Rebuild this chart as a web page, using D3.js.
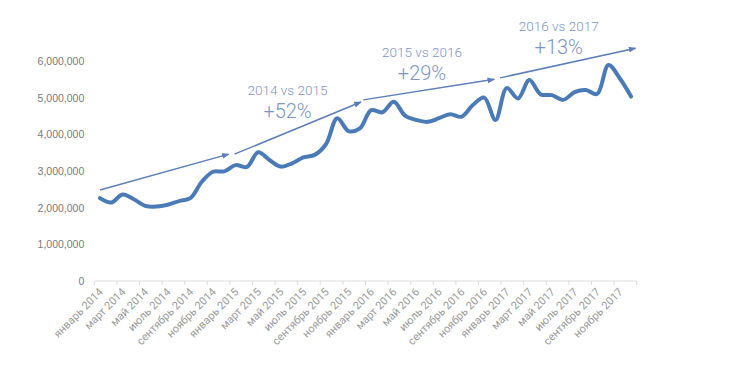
<!DOCTYPE html>
<html lang="ru">
<head>
<meta charset="UTF-8" />
<title>Продажи 2014–2017</title>
<script src="https://cdn.jsdelivr.net/npm/d3@7"></script>
<style>
  html, body { margin: 0; padding: 0; background: #fff; }
  svg { display: block; font-family: Roboto, "Noto Sans", sans-serif; }
</style>
</head>
<body>
<div id="chart"></div>
<script>
// months, Jan 2014 .. Dec 2017
const monthNames = ['январь','февраль','март','апрель','май','июнь','июль','август','сентябрь','октябрь','ноябрь','декабрь'];
const years = [2014, 2015, 2016, 2017];
const months = years.flatMap(y => monthNames.map(m => `${m} ${y}`));

// monthly values
const values = [
  2260000, 2140000, 2360000, 2230000, 2050000, 2030000, 2080000, 2180000, 2260000, 2700000, 2980000, 2990000,
  3160000, 3110000, 3510000, 3300000, 3120000, 3210000, 3370000, 3440000, 3730000, 4440000, 4090000, 4160000,
  4660000, 4600000, 4890000, 4510000, 4390000, 4340000, 4440000, 4550000, 4480000, 4800000, 5000000, 4390000,
  5260000, 4980000, 5480000, 5090000, 5070000, 4940000, 5150000, 5210000, 5100000, 5890000, 5530000, 5030000
];

const yTicks = [0, 1000000, 2000000, 3000000, 4000000, 5000000, 6000000];

// year-over-year trend arrows: [start month index, start value, end month index, end value]
const arrows = [
  [0.0, 2480000, 11.4, 3460000],
  [11.9, 3460000, 23.1, 4880000],
  [23.3, 4940000, 34.9, 5500000],
  [35.4, 5540000, 47.4, 6350000]
];
const arrowLabels = ['2014 vs 2015', '2015 vs 2016', '2016 vs 2017'];
const arrowPcts = ['+52%', '+29%', '+13%'];
// label anchor in data terms: [month index, value of first line baseline]
const labelPos = [[16.6, 5070000], [28.5, 6110000], [40.6, 6830000]];

const W = 752, H = 376;
const margin = { top: 61, right: 115.3, bottom: 95, left: 94.3 };
const iw = W - margin.left - margin.right;
const ih = H - margin.top - margin.bottom;

const svg = d3.select('#chart').append('svg')
  .attr('width', W).attr('height', H);
const g = svg.append('g').attr('transform', `translate(${margin.left},${margin.top})`);

const x = d3.scaleBand().domain(d3.range(months.length)).range([0, iw]).padding(0);
const xc = i => x(0) + (i + 0.5) * x.step();
const y = d3.scaleLinear().domain([0, 6000000]).range([ih, 0]);

// y axis labels
const yAxis = g.append('g')
  .call(d3.axisLeft(y).tickValues(yTicks).tickFormat(d3.format(',')).tickSize(0).tickPadding(10));
yAxis.select('.domain').remove();
yAxis.selectAll('line').remove();
yAxis.selectAll('text').attr('fill', '#7a7a7a').style('font-size', '10.5px');

// x axis: ticks at every second band boundary, labels at Jan/Mar/...
const xAxisG = g.append('g').attr('transform', `translate(0,${ih})`);
xAxisG.append('line').attr('x1', 0).attr('x2', iw).attr('stroke', '#dcdcdc').attr('stroke-width', 1.2);
const tickIdx = d3.range(0, months.length + 1, 2);
xAxisG.selectAll('line.tk').data(tickIdx).join('line')
  .attr('class', 'tk')
  .attr('x1', d => d * x.step()).attr('x2', d => d * x.step())
  .attr('y1', 0).attr('y2', 4)
  .attr('stroke', '#dcdcdc');
xAxisG.selectAll('text').data(d3.range(0, months.length, 2)).join('text')
  .attr('transform', d => `translate(${xc(d) + 1},9) rotate(-45)`)
  .attr('text-anchor', 'end')
  .attr('dy', '0.35em')
  .attr('fill', '#9a9a9a')
  .style('font-size', '11px')
  .text(d => months[d]);

// arrows
const defs = svg.append('defs');
defs.append('marker')
  .attr('id', 'head').attr('viewBox', '0 0 10 10')
  .attr('refX', 9).attr('refY', 5)
  .attr('markerWidth', 5).attr('markerHeight', 5)
  .attr('orient', 'auto')
  .append('path').attr('d', 'M0,1 L10,5 L0,9 Z').attr('fill', '#5b7fba');

g.append('g').selectAll('line').data(arrows).join('line')
  .attr('x1', d => xc(d[0])).attr('y1', d => y(d[1]))
  .attr('x2', d => xc(d[2])).attr('y2', d => y(d[3]))
  .attr('stroke', '#5b7fba').attr('stroke-width', 1.5)
  .attr('marker-end', 'url(#head)');

// data line
const line = d3.line()
  .x((d, i) => xc(i))
  .y(d => y(d))
  .curve(d3.curveCatmullRom.alpha(0.5));
g.append('path')
  .datum(values)
  .attr('fill', 'none')
  .attr('stroke', '#4a7bb7')
  .attr('stroke-width', 4)
  .attr('stroke-linejoin', 'round')
  .attr('stroke-linecap', 'round')
  .attr('d', line);

// annotation labels
const ann = g.append('g').attr('fill', '#7d95c6').attr('text-anchor', 'middle').style('font-weight', 300);
labelPos.forEach((p, i) => {
  ann.append('text')
    .attr('x', xc(p[0])).attr('y', y(p[1]))
    .style('font-size', '13.5px')
    .text(arrowLabels[i]);
  ann.append('text')
    .attr('x', xc(p[0])).attr('y', y(p[1]) + 23)
    .style('font-size', '20px')
    .text(arrowPcts[i]);
});
</script>
</body>
</html>
